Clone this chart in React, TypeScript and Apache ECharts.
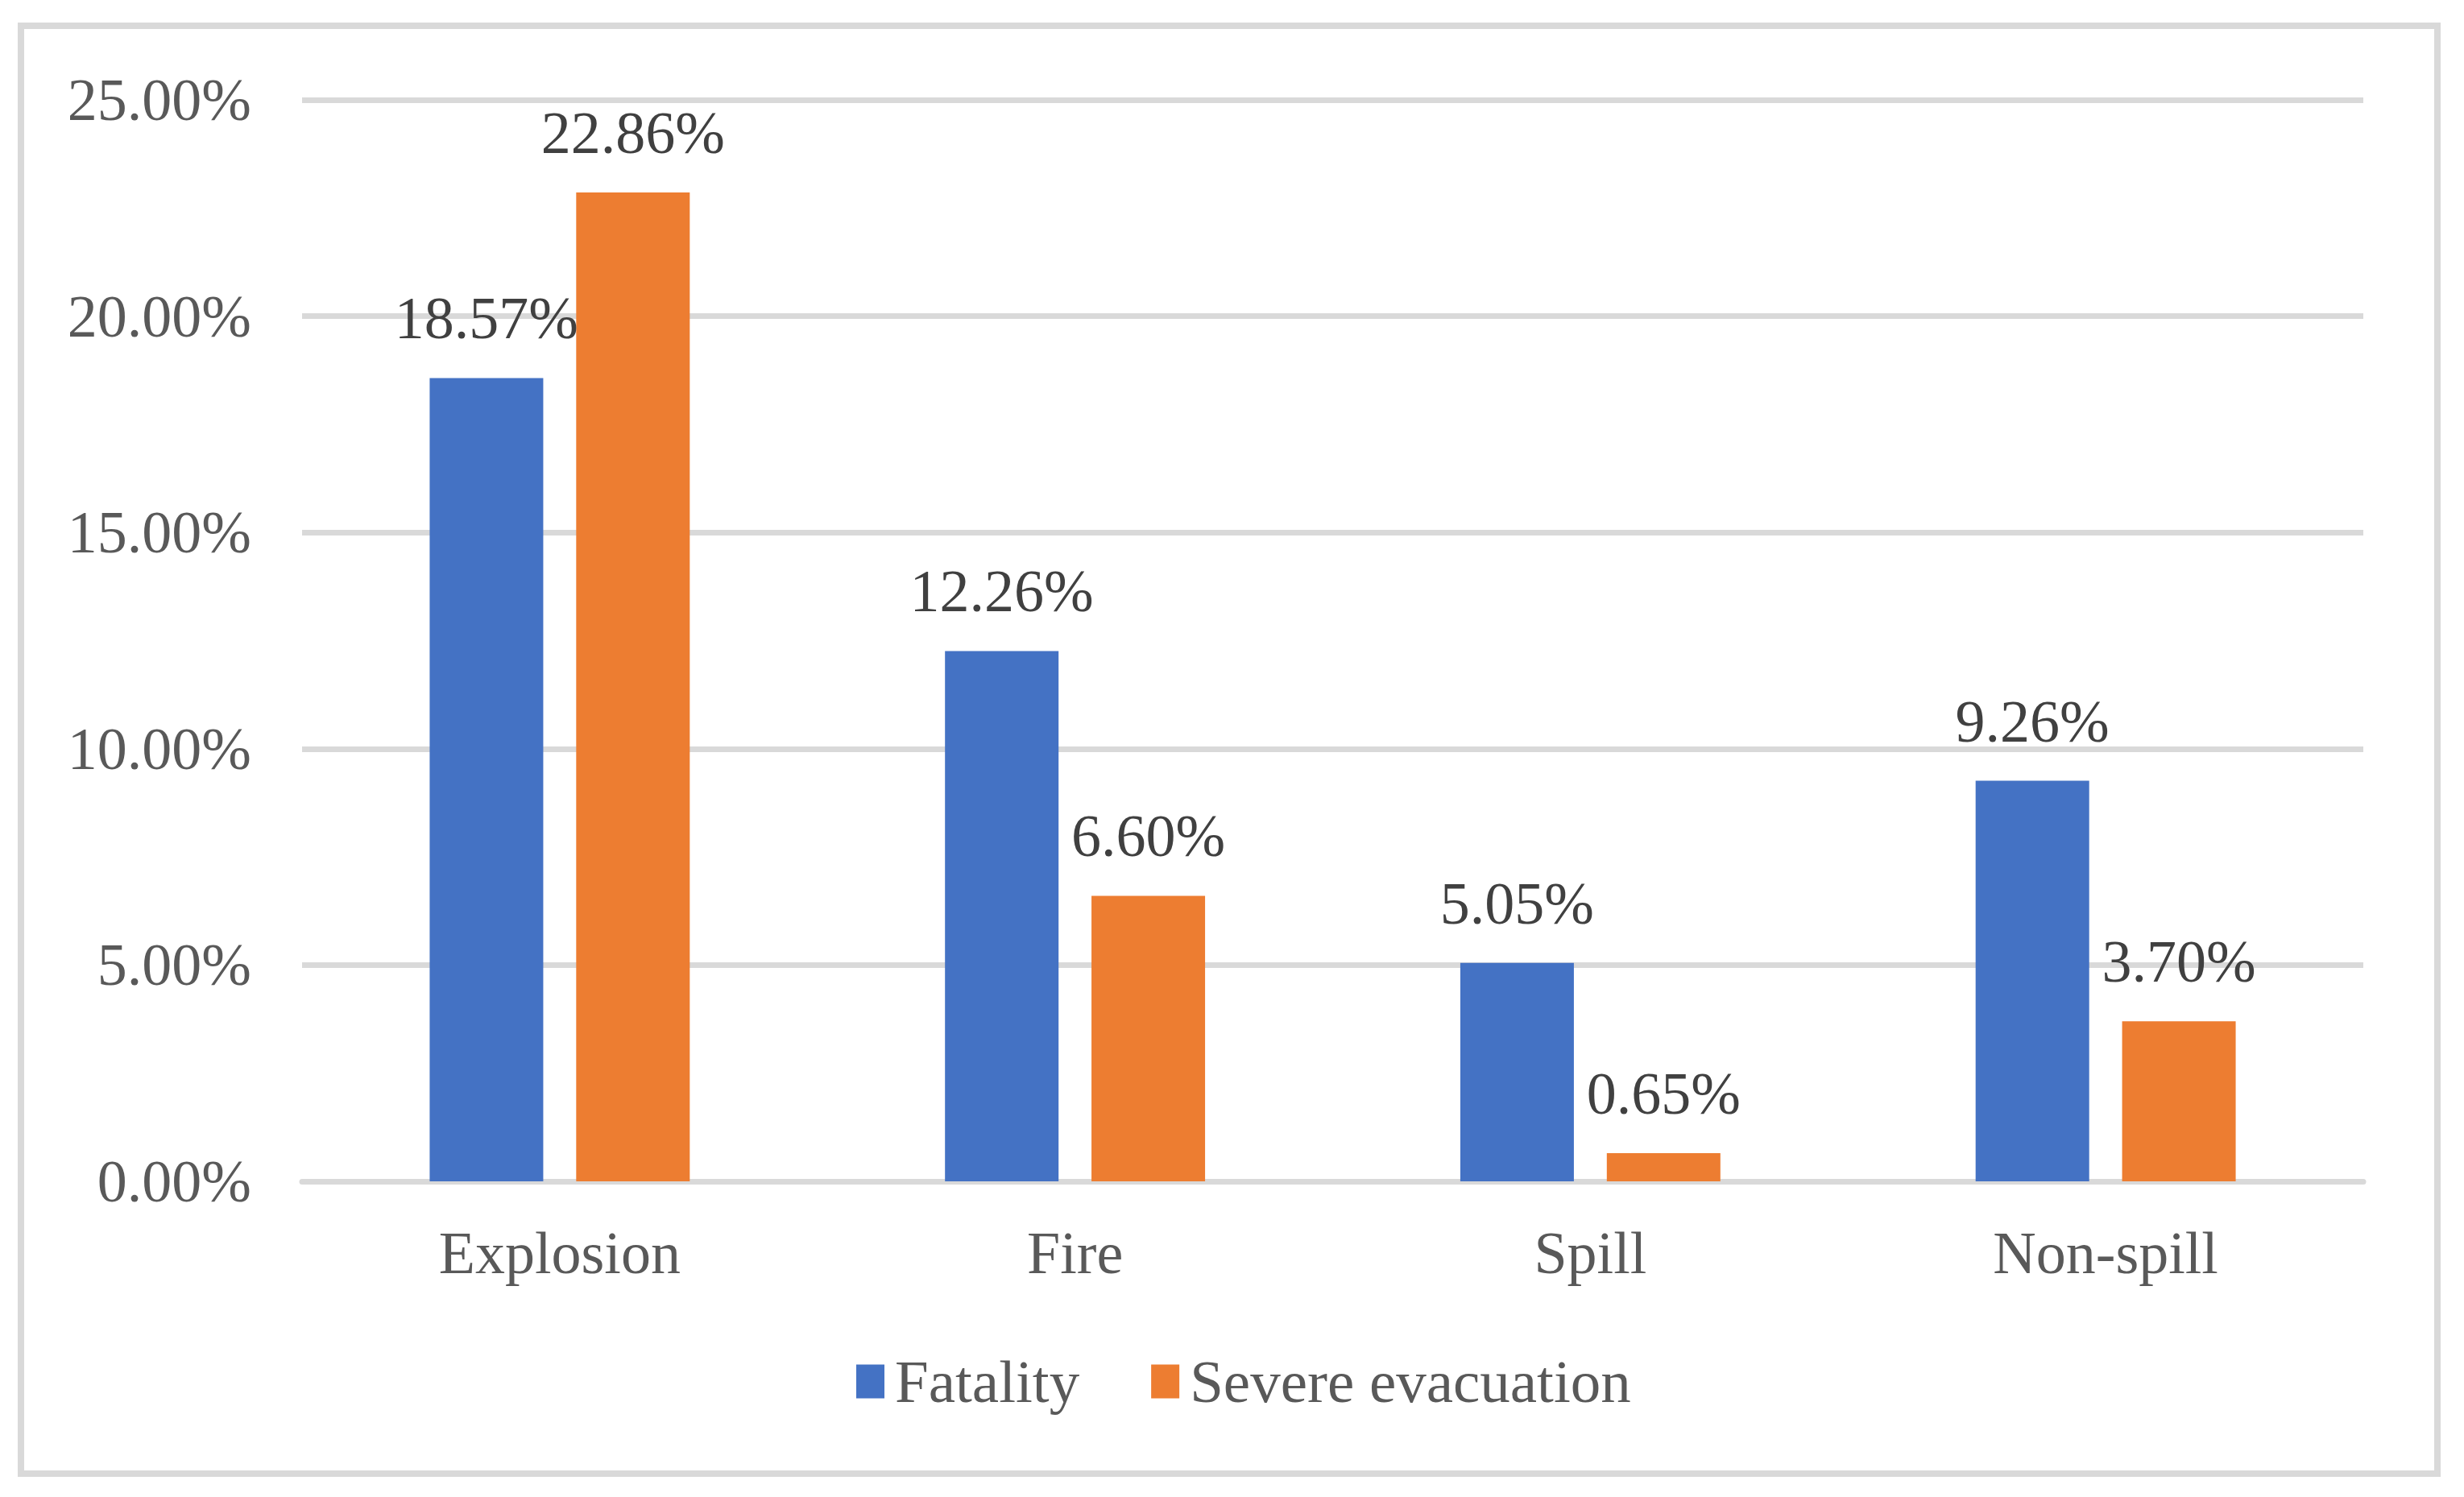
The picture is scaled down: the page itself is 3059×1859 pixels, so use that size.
import React, { useEffect, useRef } from "react";
import * as echarts from "echarts";

const categories = ["Explosion", "Fire", "Spill", "Non-spill"];
const fatality = [18.57, 12.26, 5.05, 9.26];
const severeEvacuation = [22.86, 6.6, 0.65, 3.7];
const seriesNames = ["Fatality", "Severe evacuation"];
const yMin = 0;
const yMax = 25;
const yInterval = 5;

const FONT = '"Liberation Serif", "Times New Roman", serif';

export default function App() {
  const ref = useRef<HTMLDivElement>(null);
  useEffect(() => {
    document.body.style.margin = "0";
    const chart = echarts.init(ref.current!, null, { renderer: "svg" });
    const labelStyle = {
      show: true,
      position: "top" as const,
      distance: 37,
      color: "#404040",
      fontFamily: FONT,
      fontSize: 74,
      formatter: (p: any) => Number(p.value).toFixed(2) + "%",
    };
    chart.setOption({
      animation: false,
      backgroundColor: "#ffffff",
      textStyle: { fontFamily: FONT },
      graphic: [
        {
          type: "rect",
          shape: { x: 26, y: 32, width: 3000, height: 1798 },
          style: { fill: "none", stroke: "#d9d9d9", lineWidth: 8 },
          silent: true,
          z: -1,
        },
      ],
      grid: { left: 375, right: 125, top: 124, bottom: 392 },
      legend: {
        data: seriesNames,
        left: 1058,
        top: 1673,
        itemWidth: 35,
        itemHeight: 42,
        itemGap: 89,
        icon: "rect",
        textStyle: {
          color: "#595959",
          fontFamily: FONT,
          fontSize: 75,
          padding: [0, 0, 0, 8],
        },
      },
      xAxis: {
        type: "category",
        data: categories,
        axisLine: { show: true, lineStyle: { color: "#d9d9d9", width: 7 } },
        axisTick: { show: false },
        axisLabel: {
          color: "#595959",
          fontFamily: FONT,
          fontSize: 74,
          margin: 52,
        },
      },
      yAxis: {
        type: "value",
        min: yMin,
        max: yMax,
        interval: yInterval,
        axisLine: { show: false },
        axisTick: { show: false },
        splitLine: { lineStyle: { color: "#d9d9d9", width: 7 } },
        axisLabel: {
          color: "#595959",
          fontFamily: FONT,
          fontSize: 74,
          margin: 63,
          formatter: (v: number) => v.toFixed(2) + "%",
        },
      },
      series: [
        {
          name: seriesNames[0],
          type: "bar",
          data: fatality,
          barWidth: 141,
          barGap: "29%",
          itemStyle: { color: "#4472C4" },
          label: labelStyle,
        },
        {
          name: seriesNames[1],
          type: "bar",
          data: severeEvacuation,
          barWidth: 141,
          barGap: "29%",
          itemStyle: { color: "#ED7D31" },
          label: labelStyle,
        },
      ],
    });
    return () => chart.dispose();
  }, []);
  return <div ref={ref} style={{ width: 3059, height: 1859 }} />;
}
